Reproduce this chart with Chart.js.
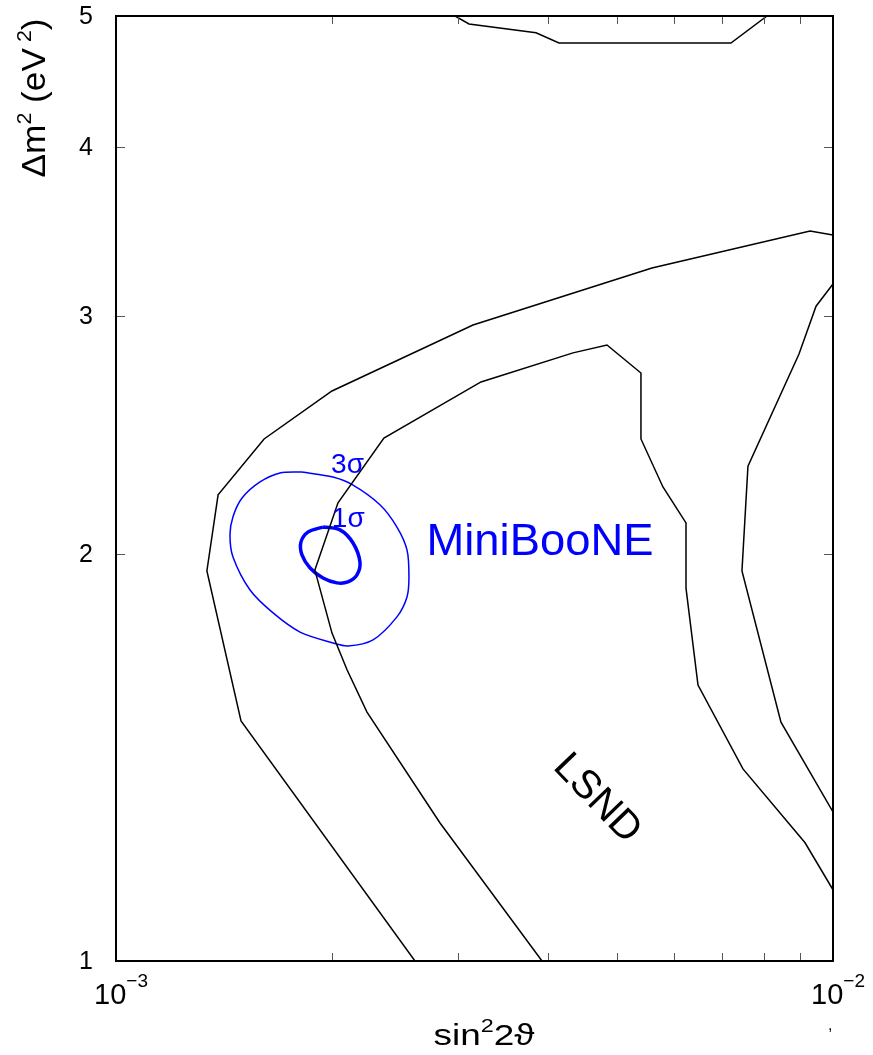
<!DOCTYPE html>
<html>
<head>
<meta charset="utf-8">
<script src="https://cdn.jsdelivr.net/npm/chart.js@4.4.0/dist/chart.umd.min.js"></script>
<style>
  body { margin: 0; background: #fff; }
  canvas { display: block; }
</style>
</head>
<body>
<canvas id="myChart" width="873" height="1055"></canvas>
<script>
// axis ticks
const xMin = 1e-3, xMax = 1e-2;
const yMin = 1, yMax = 5;
const yTickLabels = [1, 2, 3, 4, 5];
const yInnerTicks = [2, 3, 4];
const xInnerTicks = [2e-3, 3e-3, 4e-3, 5e-3, 6e-3, 7e-3, 8e-3, 9e-3];
const xLabelValues = [1e-3, 1e-2];
const xLabelExps = ["\u22123", "\u22122"];

// LSND contours (sin^2 2theta, dm^2)
const lsndTopX = [2.971e-3, 3.107e-3, 3.853e-3, 4.148e-3, 7.205e-3, 8.090e-3];
const lsndTopY = [5.0, 4.933, 4.859, 4.775, 4.775, 5.0];

const lsndOuterX = [1e-2, 9.289e-3, 5.591e-3, 3.147e-3, 2.001e-3, 1.609e-3, 1.388e-3, 1.339e-3, 1.494e-3, 2.612e-3];
const lsndOuterY = [3.443, 3.467, 3.255, 2.954, 2.640, 2.433, 2.212, 1.943, 1.505, 1.0];

const lsndMidX = [3.928e-3, 2.831e-3, 2.239e-3, 2.100e-3, 2.001e-3, 1.894e-3, 2.040e-3, 2.364e-3, 3.229e-3, 4.339e-3,
  4.839e-3, 5.397e-3, 5.397e-3, 5.792e-3, 6.237e-3, 6.237e-3, 6.482e-3, 7.489e-3, 9.142e-3, 1e-2];
const lsndMidY = [1.0, 1.265, 1.528, 1.642, 1.748, 1.946, 2.182, 2.437, 2.681, 2.817,
  2.855, 2.722, 2.433, 2.242, 2.109, 1.887, 1.600, 1.387, 1.223, 1.129];

const lsndInnerX = [1e-2, 9.470e-3, 8.966e-3, 7.610e-3, 7.465e-3, 8.461e-3, 1e-2];
const lsndInnerY = [3.168, 3.050, 2.812, 2.323, 1.943, 1.502, 1.289];

// MiniBooNE contours
const mb3sX = [1.817e-3, 2.007e-3, 2.141e-3, 2.334e-3, 2.465e-3, 2.546e-3, 2.562e-3, 2.546e-3, 2.465e-3, 2.283e-3,
  2.106e-3, 2.007e-3, 1.806e-3, 1.656e-3, 1.538e-3, 1.456e-3, 1.442e-3, 1.456e-3, 1.499e-3, 1.588e-3, 1.693e-3, 1.817e-3];
const mb3sY = [2.300, 2.280, 2.249, 2.175, 2.094, 2.014, 1.923, 1.859, 1.797, 1.728,
  1.710, 1.719, 1.751, 1.809, 1.881, 1.990, 2.066, 2.131, 2.200, 2.261, 2.296, 2.300];

const mb1sX = [1.944e-3, 2.053e-3, 2.141e-3, 2.189e-3, 2.168e-3, 2.106e-3, 2.033e-3, 1.944e-3, 1.865e-3, 1.817e-3, 1.811e-3, 1.852e-3, 1.944e-3];
const mb1sY = [2.094, 2.084, 2.038, 1.973, 1.930, 1.907, 1.904, 1.920, 1.953, 1.997, 2.041, 2.076, 2.094];

const FONT = "'Liberation Sans', Arial, sans-serif";

const pts = (xs, ys) => xs.map((x, i) => ({ x: x, y: ys[i] }));

const line = (data, color, width, tension) => ({
  data: data,
  showLine: true,
  borderColor: color,
  backgroundColor: color,
  borderWidth: width,
  pointRadius: 0,
  tension: tension || 0,
  fill: false,
});

// draw text pieces [text, size, rise] one after another, optionally squeezed to a width
const richText = (ctx, parts, x, y, align, fitW) => {
  let w = 0;
  parts.forEach((p) => {
    ctx.font = p[1] + "px " + FONT;
    w += ctx.measureText(p[0]).width;
  });
  const k = fitW ? fitW / w : 1;
  ctx.save();
  ctx.translate(x, y);
  ctx.scale(k, 1);
  let cx = align === "center" ? -w / 2 : align === "right" ? -w : 0;
  ctx.textAlign = "left";
  ctx.textBaseline = "alphabetic";
  parts.forEach((p) => {
    ctx.font = p[1] + "px " + FONT;
    ctx.fillText(p[0], cx, -p[2]);
    cx += ctx.measureText(p[0]).width;
  });
  ctx.restore();
};

const framePlugin = {
  id: "frame",
  afterDraw(chart) {
    const ctx = chart.ctx;
    const xs = chart.scales.x, ys = chart.scales.y;
    const a = chart.chartArea;
    ctx.save();

    // ticks
    ctx.strokeStyle = "#555";
    ctx.lineWidth = 1;
    ctx.beginPath();
    xInnerTicks.forEach((v) => {
      const px = Math.round(xs.getPixelForValue(v)) + 0.5;
      ctx.moveTo(px, a.bottom); ctx.lineTo(px, a.bottom - 8);
      ctx.moveTo(px, a.top); ctx.lineTo(px, a.top + 8);
    });
    yInnerTicks.forEach((v) => {
      const py = Math.round(ys.getPixelForValue(v)) + 0.5;
      ctx.moveTo(a.left, py); ctx.lineTo(a.left + 9, py);
      ctx.moveTo(a.right, py); ctx.lineTo(a.right - 9, py);
    });
    ctx.stroke();

    // frame
    ctx.strokeStyle = "#000";
    ctx.lineWidth = 2;
    ctx.strokeRect(a.left, a.top, a.right - a.left, a.bottom - a.top);

    // y tick labels
    ctx.fillStyle = "#000";
    ctx.font = "25px " + FONT;
    ctx.textAlign = "right";
    ctx.textBaseline = "middle";
    yTickLabels.forEach((v) => {
      ctx.fillText(String(v), 93, ys.getPixelForValue(v) + 1);
    });

    // x tick labels
    xLabelValues.forEach((v, i) => {
      const px = xs.getPixelForValue(v);
      richText(ctx, [["10", 29, 0], [xLabelExps[i], 19, 17]], px + 5, 1004, "center");
    });

    // axis titles
    richText(ctx, [["sin", 30, 0], ["2", 19, 13], ["2\u03d1", 30, 0]], 484, 1045, "center", 101);
    ctx.save();
    ctx.translate(45, 98);
    ctx.rotate(-Math.PI / 2);
    richText(ctx, [["\u0394m", 33, 0], ["2", 20, 14], [" (eV", 33, 0], [" 2", 20, 14], [")", 33, 0]], 0, 0, "center", 159);
    ctx.restore();
    ctx.font = "16px " + FONT;
    ctx.textAlign = "left";
    ctx.textBaseline = "alphabetic";
    ctx.fillText(",", 828, 1030);

    // annotations
    ctx.fillStyle = "#0000ff";
    richText(ctx, [["3\u03c3", 28, 0]], xs.getPixelForValue(1.995e-3), ys.getPixelForValue(2.296), "left");
    richText(ctx, [["1\u03c3", 28, 0]], xs.getPixelForValue(2.0e-3), ys.getPixelForValue(2.094), "left");
    richText(ctx, [["MiniBooNE", 44, 0]], xs.getPixelForValue(2.71e-3), ys.getPixelForValue(1.997), "left", 227);

    ctx.fillStyle = "#000";
    ctx.save();
    ctx.translate(xs.getPixelForValue(4.055e-3), ys.getPixelForValue(1.389));
    ctx.rotate(46 * Math.PI / 180);
    richText(ctx, [["LSND", 40, 0]], 0, 0, "left");
    ctx.restore();

    ctx.restore();
  },
};

const ctx = document.getElementById("myChart").getContext("2d");

const config = {
  type: "scatter",
  data: {
    datasets: [
      line(pts(lsndTopX, lsndTopY), "#000", 1.5),
      line(pts(lsndOuterX, lsndOuterY), "#000", 1.5),
      line(pts(lsndMidX, lsndMidY), "#000", 1.5),
      line(pts(lsndInnerX, lsndInnerY), "#000", 1.5),
      line(pts(mb3sX, mb3sY), "#0000ff", 1.5, 0.3),
      line(pts(mb1sX, mb1sY), "#0000ff", 3.5, 0.3),
    ],
  },
  options: {
    responsive: false,
    animation: false,
    devicePixelRatio: 1,
    layout: { padding: { left: 116, right: 40, top: 16, bottom: 94 } },
    plugins: { legend: { display: false }, tooltip: { enabled: false } },
    scales: {
      x: { type: "logarithmic", min: xMin, max: xMax, display: false },
      y: { type: "logarithmic", min: yMin, max: yMax, display: false },
    },
  },
  plugins: [framePlugin],
};

const myChart = new Chart(ctx, config);
</script>
</body>
</html>
